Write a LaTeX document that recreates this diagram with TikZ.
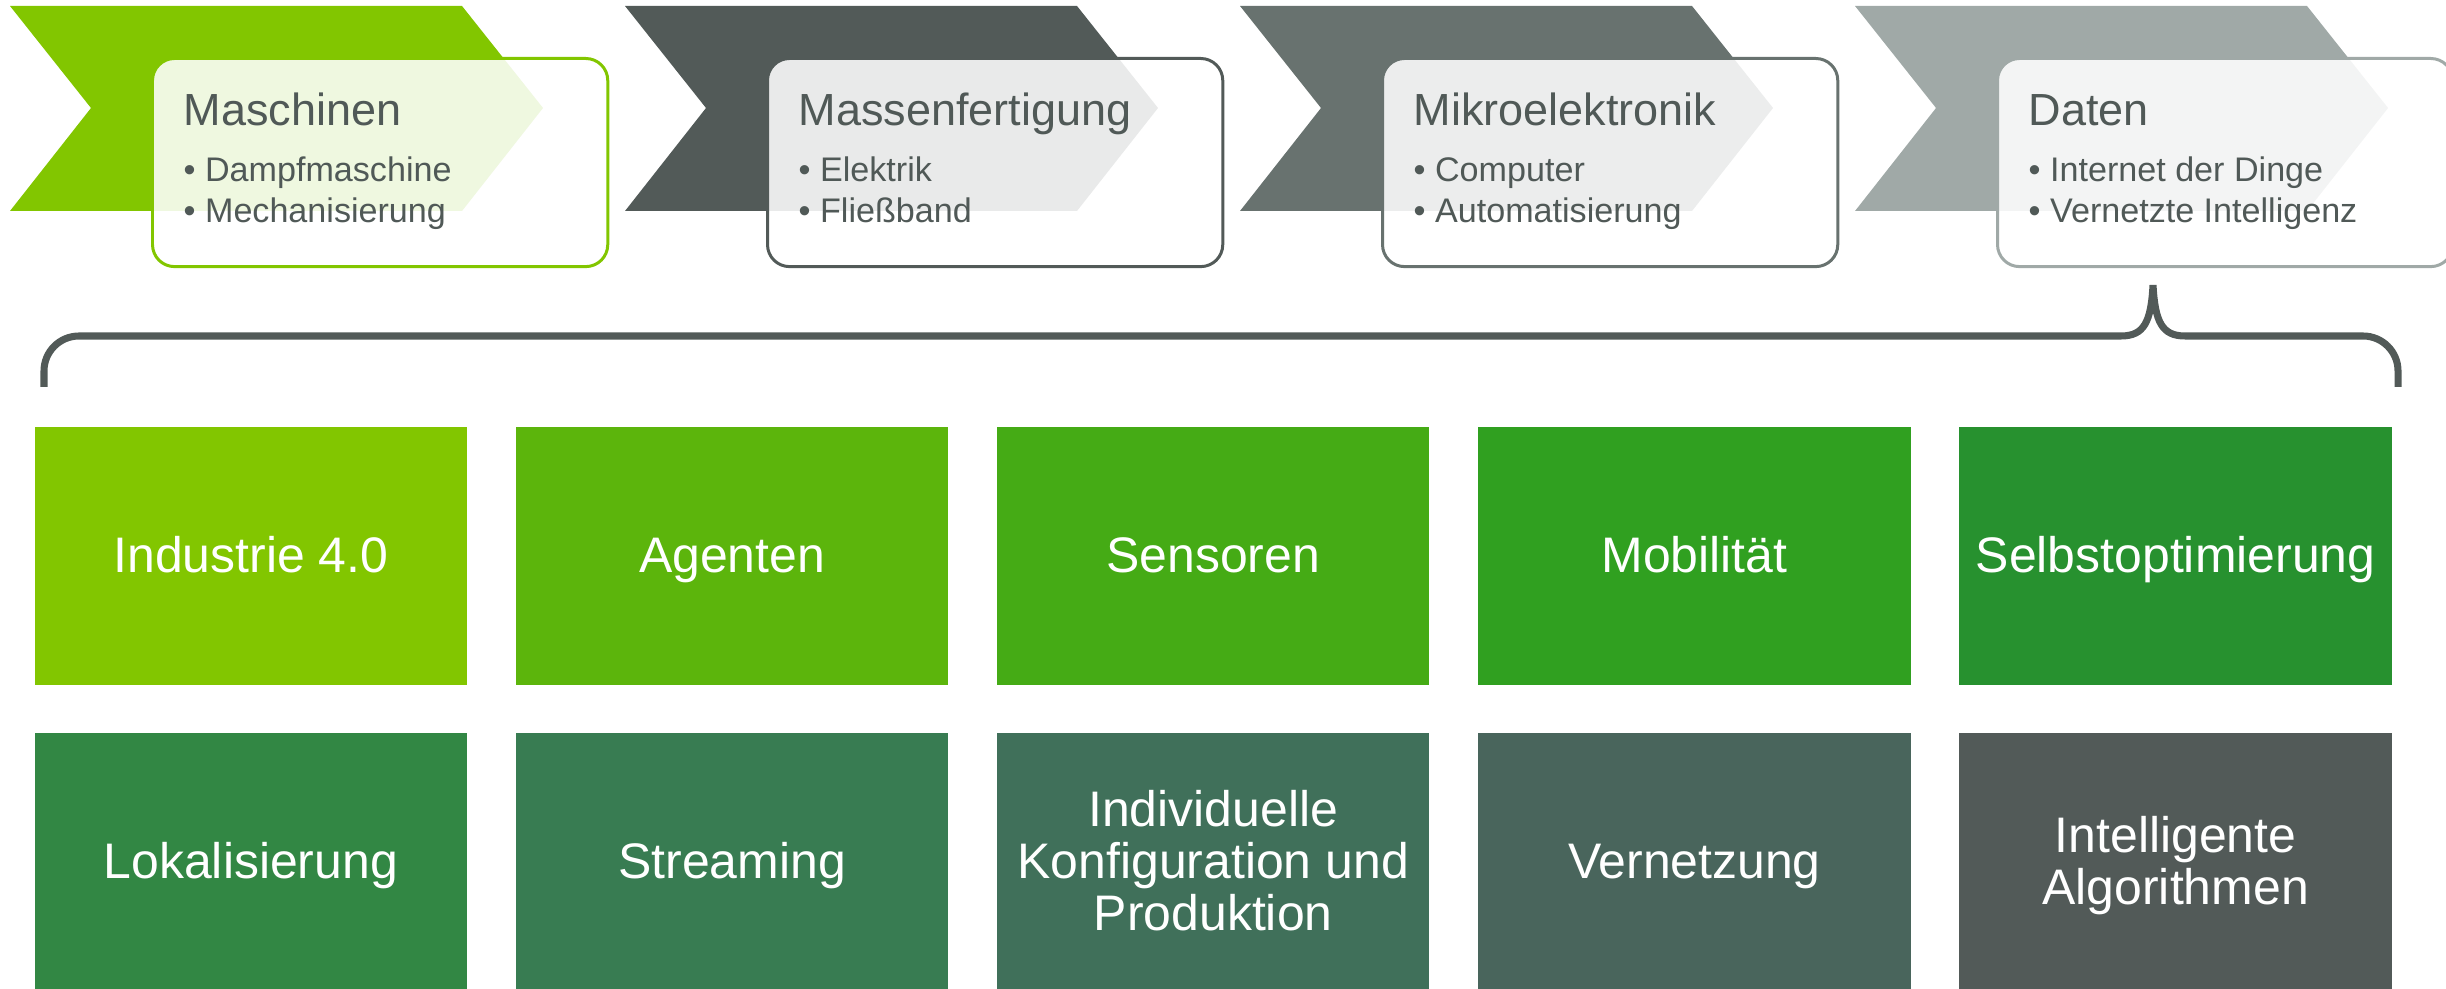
\documentclass[tikz,border=0pt]{standalone}
\usepackage{fontspec}
\setmainfont{Liberation Sans}
\usetikzlibrary{positioning}

\definecolor{lime}{HTML}{82C600}
\definecolor{slate}{HTML}{525A58}
\definecolor{pewter}{HTML}{68726F}
\definecolor{ash}{HTML}{A0A9A7}
\definecolor{ink}{HTML}{505957}
\definecolor{rowAa}{HTML}{82C600}
\definecolor{rowAb}{HTML}{5CB50C}
\definecolor{rowAc}{HTML}{45AB15}
\definecolor{rowAd}{HTML}{30A020}
\definecolor{rowAe}{HTML}{27912F}
\definecolor{rowBa}{HTML}{328744}
\definecolor{rowBb}{HTML}{387C52}
\definecolor{rowBc}{HTML}{40705A}
\definecolor{rowBd}{HTML}{49655C}
\definecolor{rowBe}{HTML}{525A58}

\begin{document}
\begin{tikzpicture}[x = 0.01cm, y = 0.01cm, node distance = 0.465cm and 0.475cm,
    phase/.style = {draw, line width = 0.85pt, rounded corners = 0.22cm, fill = white, fill opacity = 0.88, minimum width = 4.55cm, minimum height = 2.08cm, inner sep = 0pt, anchor = north west},
    headline/.style = {anchor = base west, inner sep = 0pt, text = ink, font = \fontsize{12.8}{14}\selectfont},
    bullets/.style = {anchor = base west, inner sep = 0pt, align = left, text = ink, font = \fontsize{9.7}{11.7}\selectfont},
    tile/.style = {minimum width = 4.32cm, minimum height = 2.58cm, inner sep = 0pt, align = center, text = white, text height = 0.38cm, text depth = 0.04cm, font = \fontsize{14.2}{14.8}\selectfont},
    brace/.style = {draw = slate, line width = 2pt}]
      \useasboundingbox (0,0) rectangle (2446,-989);

      % phases
      \fill[lime]   (10,-6)   -- (462,-6)   -- (543,-108)  -- (462,-211)  -- (10,-211)   -- (91,-108)   -- cycle;
      \fill[slate]  (625,-6)  -- (1077,-6)  -- (1158,-108) -- (1077,-211) -- (625,-211)  -- (706,-108)  -- cycle;
      \fill[pewter] (1240,-6) -- (1692,-6)  -- (1773,-108) -- (1692,-211) -- (1240,-211) -- (1321,-108) -- cycle;
      \fill[ash]    (1855,-6) -- (2307,-6)  -- (2388,-108) -- (2307,-211) -- (1855,-211) -- (1936,-108) -- cycle;

      \node[phase, draw = lime]   (mach)  at (151,-57)  {};
      \node[phase, draw = slate]  (mass)  at (766,-57)  {};
      \node[phase, draw = pewter] (mikro) at (1381,-57) {};
      \node[phase, draw = ash]    (daten) at (1996,-57) {};

      \node[headline] (mach-title)  at (183,-126)  {Maschinen};
      \node[headline] (mass-title)  at (798,-126)  {Massenfertigung};
      \node[headline] (mikro-title) at (1413,-126) {Mikroelektronik};
      \node[headline] (daten-title) at (2028,-126) {Daten};

      % base of a list is its last line
      \node[bullets] (mach-list)  at (183,-223)  {\textbullet\ Dampfmaschine\\\textbullet\ Mechanisierung};
      \node[bullets] (mass-list)  at (798,-223)  {\textbullet\ Elektrik\\\textbullet\ Fließband};
      \node[bullets] (mikro-list) at (1413,-223) {\textbullet\ Computer\\\textbullet\ Automatisierung};
      \node[bullets] (daten-list) at (2028,-223) {\textbullet\ Internet der Dinge\\\textbullet\ Vernetzte Intelligenz};

      % brace under the phases
      \draw[brace] (44,-387) -- (44,-371) arc[start angle = 180, end angle = 90, radius = 35] -- (2121,-336)
                   .. controls (2144,-336) and (2151,-322) .. (2153,-285)
                   .. controls (2155,-322) and (2162,-336) .. (2185,-336)
                   -- (2363,-336) arc[start angle = 90, end angle = 0, radius = 35] -- (2398,-387);

      % topics
      \node[tile, fill = rowAa, anchor = north west] (industrie) at (34,-426) {Industrie 4.0};
      \node[tile, fill = rowAb, right = of industrie] (agenten)  {Agenten};
      \node[tile, fill = rowAc, right = of agenten]   (sensoren) {Sensoren};
      \node[tile, fill = rowAd, right = of sensoren]  (mobil)    {Mobilität};
      \node[tile, fill = rowAe, right = of mobil]     (selbst)   {Selbstoptimierung};

      \node[tile, fill = rowBa, below = of industrie] (lokal)     {Lokalisierung};
      \node[tile, fill = rowBb, below = of agenten]   (streaming) {Streaming};
      \node[tile, fill = rowBc, below = of sensoren, text height = 1.42cm] (konfig) {Individuelle\\Konfiguration und\\Produktion};
      \node[tile, fill = rowBd, below = of mobil]     (vernetz)   {Vernetzung};
      \node[tile, fill = rowBe, below = of selbst, text height = 0.9cm] (algo) {Intelligente\\Algorithmen};
\end{tikzpicture}
\end{document}
